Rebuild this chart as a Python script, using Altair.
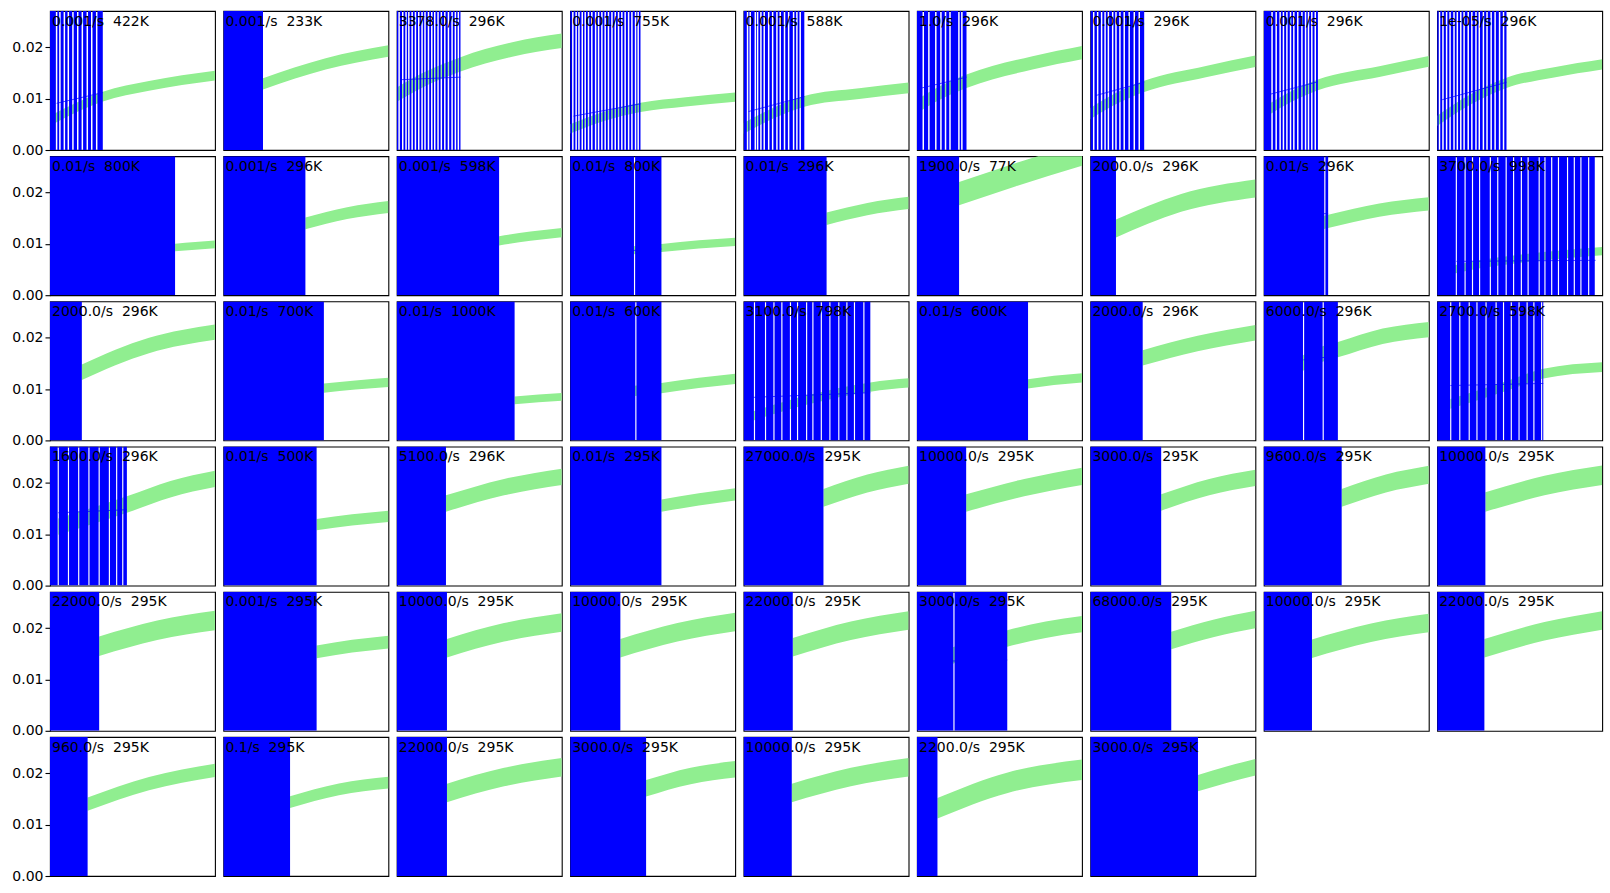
import altair as alt
import pandas as pd

# ---- panel labels ----
rates = ["0.001", "0.001", "3378.0", "0.001", "0.001", "1.0", "0.001", "0.001", "1e-05",
         "0.01", "0.001", "0.001", "0.01", "0.01", "1900.0", "2000.0", "0.01", "3700.0",
         "2000.0", "0.01", "0.01", "0.01", "3100.0", "0.01", "2000.0", "6000.0", "2700.0",
         "1600.0", "0.01", "5100.0", "0.01", "27000.0", "10000.0", "3000.0", "9600.0", "10000.0",
         "22000.0", "0.001", "10000.0", "10000.0", "22000.0", "3000.0", "68000.0", "10000.0", "22000.0",
         "960.0", "0.1", "22000.0", "3000.0", "10000.0", "2200.0", "3000.0"]
temps = [422, 233, 296, 755, 588, 296, 296, 296, 296,
         800, 296, 598, 800, 296, 77, 296, 296, 998,
         296, 700, 1000, 600, 798, 600, 296, 296, 598,
         296, 500, 296, 295, 295, 295, 295, 295, 295,
         295, 295, 295, 295, 295, 295, 295, 295, 295,
         295, 295, 295, 295, 295, 295, 295]

# ---- extent of the blue error bars (fraction of x range) ----
blue_end = [0.32, 0.24, 0.386, 0.426, 0.368, 0.30, 0.326, 0.328, 0.42,
            0.758, 0.497, 0.62, 0.553, 0.503, 0.255, 0.155, 0.39, 0.955,
            0.193, 0.609, 0.714, 0.553, 0.768, 0.673, 0.317, 0.449, 0.643,
            0.466, 0.565, 0.298, 0.553, 0.484, 0.298, 0.429, 0.472, 0.292,
            0.298, 0.565, 0.304, 0.304, 0.298, 0.547, 0.49, 0.292, 0.286,
            0.228, 0.404, 0.304, 0.46, 0.292, 0.124, 0.652]

# white gaps between error bars
gaps = [
    [0.04, 0.06, 0.087, 0.111, 0.139, 0.168, 0.196, 0.226, 0.253, 0.283],
    [],
    [0.014, 0.036, 0.056, 0.073, 0.093, 0.113, 0.133, 0.153, 0.171, 0.192, 0.212, 0.230, 0.250, 0.270, 0.291, 0.313, 0.335, 0.355, 0.373],
    [0.016, 0.036, 0.053, 0.073, 0.091, 0.111, 0.131, 0.154, 0.172, 0.192, 0.212, 0.232, 0.253, 0.273, 0.293, 0.313, 0.333, 0.354, 0.374, 0.396, 0.412],
    [0.024, 0.04, 0.071, 0.085, 0.105, 0.125, 0.152, 0.176, 0.202, 0.222, 0.248, 0.273, 0.303, 0.323, 0.343],
    [0.038, 0.072, 0.114, 0.145, 0.173, 0.2, 0.254, 0.272],
    [0.02, 0.044, 0.068, 0.089, 0.109, 0.135, 0.155, 0.179, 0.205, 0.235, 0.266, 0.296],
    [0.05, 0.075, 0.099, 0.119, 0.14, 0.162, 0.182, 0.206, 0.231, 0.253, 0.271, 0.291, 0.312],
    [0.014, 0.035, 0.057, 0.078, 0.102, 0.122, 0.143, 0.163, 0.188, 0.21, 0.235, 0.255, 0.28, 0.302, 0.327, 0.351, 0.378, 0.402],
    [], [], [], [0.39], [], [], [], [0.37],
    [0.116, 0.169, 0.214, 0.257, 0.322, 0.367, 0.418, 0.463, 0.51, 0.551, 0.618, 0.653, 0.694, 0.735, 0.79, 0.831, 0.871, 0.918],
    [], [], [], [0.398],
    [0.066, 0.133, 0.184, 0.232, 0.284, 0.327, 0.382, 0.42, 0.471, 0.523, 0.577, 0.626, 0.672, 0.729],
    [], [], [0.241, 0.36],
    [0.082, 0.137, 0.194, 0.241, 0.296, 0.357, 0.402, 0.449, 0.496, 0.545, 0.586, 0.633],
    [0.05, 0.112, 0.174, 0.236, 0.298, 0.36, 0.404, 0.441],
    [], [], [], [], [], [], [], [],
    [], [], [], [], [], [0.224], [], [], [],
    [], [], [], [], [], [], [],
]

# ---- green model band: centre line points and width ----
band_x = [
    [0, 0.32, 0.6, 1.0], [0.24, 0.62, 1.0], [0, 0.15, 0.386, 0.7, 1.0],
    [0, 0.2, 0.426, 0.7, 1.0], [0, 0.18, 0.368, 0.7, 1.0], [0, 0.15, 0.30, 0.7, 1.0],
    [0, 0.16, 0.326, 0.7, 1.0], [0, 0.16, 0.328, 0.7, 1.0], [0, 0.2, 0.42, 0.7, 1.0],
    [0.758, 0.88, 1.0], [0.497, 0.75, 1.0], [0.62, 0.81, 1.0],
    [0.3, 0.553, 0.78, 1.0], [0.503, 0.75, 1.0], [0.255, 0.6, 1.0],
    [0.155, 0.55, 1.0], [0.34, 0.39, 0.7, 1.0], [0.1, 0.25, 0.5, 1.0],
    [0.193, 0.6, 1.0], [0.609, 0.8, 1.0], [0.714, 0.86, 1.0],
    [0.3, 0.553, 0.78, 1.0], [0.06, 0.4, 0.768, 1.0], [0.671, 0.83, 1.0],
    [0.317, 0.65, 1.0], [0.22, 0.36, 0.449, 0.72, 1.0], [0.08, 0.4, 0.643, 1.0],
    [0.05, 0.466, 0.73, 1.0], [0.565, 0.78, 1.0], [0.298, 0.65, 1.0],
    [0.553, 0.78, 1.0], [0.484, 0.75, 1.0], [0.298, 0.65, 1.0],
    [0.429, 0.72, 1.0], [0.472, 0.74, 1.0], [0.292, 0.65, 1.0],
    [0.298, 0.65, 1.0], [0.565, 0.78, 1.0], [0.304, 0.65, 1.0],
    [0.304, 0.65, 1.0], [0.298, 0.65, 1.0], [0.2, 0.547, 0.78, 1.0],
    [0.49, 0.75, 1.0], [0.292, 0.65, 1.0], [0.286, 0.65, 1.0],
    [0.228, 0.6, 1.0], [0.404, 0.7, 1.0], [0.304, 0.65, 1.0],
    [0.46, 0.73, 1.0], [0.292, 0.65, 1.0], [0.124, 0.55, 1.0],
    [0.652, 0.83, 1.0],
]
band_c = [
    [0.0057, 0.0104, 0.0125, 0.0145], [0.0129, 0.0168, 0.0193], [0.0108, 0.0135, 0.0167, 0.0196, 0.0213],
    [0.0041, 0.0065, 0.0083, 0.0094, 0.0103], [0.0042, 0.0072, 0.0095, 0.011, 0.0121], [0.0085, 0.0113, 0.0134, 0.017, 0.019],
    [0.0071, 0.0101, 0.0124, 0.0153, 0.0173], [0.0073, 0.0103, 0.0127, 0.0153, 0.0173], [0.0057, 0.0098, 0.0131, 0.0151, 0.0167],
    [0.0093, 0.0096, 0.0099], [0.014, 0.016, 0.0172], [0.0106, 0.0115, 0.0122],
    [0.0086, 0.0092, 0.0099, 0.0104], [0.0149, 0.0168, 0.018], [0.0198, 0.0235, 0.0275],
    [0.013, 0.018, 0.0208], [0.014, 0.0144, 0.0166, 0.0178], [0.005, 0.006, 0.0071, 0.0086],
    [0.0133, 0.0185, 0.0211], [0.0102, 0.0108, 0.0113], [0.0078, 0.0082, 0.0085],
    [0.0094, 0.0102, 0.0112, 0.012], [0.0048, 0.008, 0.0104, 0.0112], [0.011, 0.0117, 0.0122],
    [0.0161, 0.0189, 0.021], [0.0148, 0.0169, 0.0177, 0.0203, 0.0216], [0.0071, 0.0104, 0.013, 0.0143],
    [0.0115, 0.0158, 0.0188, 0.0208], [0.0119, 0.0128, 0.0135], [0.016, 0.0192, 0.0212],
    [0.0156, 0.0168, 0.0178], [0.0171, 0.0199, 0.0216], [0.0161, 0.0191, 0.0213],
    [0.0162, 0.0192, 0.021], [0.0171, 0.0199, 0.0216], [0.0163, 0.0195, 0.0215],
    [0.0165, 0.0196, 0.0215], [0.0154, 0.0165, 0.0173], [0.0161, 0.0192, 0.0211],
    [0.0161, 0.0192, 0.0212], [0.0163, 0.0195, 0.0215], [0.0145, 0.018, 0.0197, 0.0208],
    [0.0176, 0.02, 0.0217], [0.016, 0.0191, 0.021], [0.0161, 0.0194, 0.0215],
    [0.014, 0.018, 0.0206], [0.0144, 0.0169, 0.0182], [0.0162, 0.0193, 0.0212],
    [0.0171, 0.0195, 0.0208], [0.0162, 0.0193, 0.0212], [0.0132, 0.0182, 0.0207],
    [0.0181, 0.0198, 0.0212],
]
band_w = [0.0019, 0.0022, 0.0028, 0.0018, 0.0021, 0.0026, 0.0022, 0.0021, 0.002,
          0.0015, 0.0023, 0.0018, 0.0016, 0.0024, 0.0045, 0.0035, 0.0026, 0.0016,
          0.003, 0.0018, 0.0015, 0.002, 0.0018, 0.0018, 0.003, 0.003, 0.0019,
          0.0032, 0.0022, 0.0032, 0.0024, 0.0035, 0.0034, 0.0032, 0.0035, 0.0038,
          0.0038, 0.0025, 0.0036, 0.0036, 0.0036, 0.0032, 0.0034, 0.0036, 0.0036,
          0.0026, 0.0023, 0.0036, 0.0032, 0.0036, 0.004, 0.0032]

# ---- measured data line (visible through gaps) ----
meas_x = {0: [0.04, 0.32], 2: [0.02, 0.386], 3: [0.02, 0.426], 4: [0.03, 0.368],
          5: [0.03, 0.30], 6: [0.03, 0.326], 7: [0.03, 0.328], 8: [0.03, 0.42],
          12: [0.3, 0.553], 16: [0.35, 0.39], 17: [0.116, 0.96], 22: [0.06, 0.768],
          25: [0.24, 0.449], 26: [0.08, 0.643], 27: [0.05, 0.466], 41: [0.2, 0.547]}
meas_y = {0: [0.0091, 0.0112], 2: [0.0137, 0.0142], 3: [0.0066, 0.009], 4: [0.0075, 0.0104],
          5: [0.0121, 0.0142], 6: [0.0106, 0.0132], 7: [0.0108, 0.0133], 8: [0.0098, 0.0132],
          12: [0.0086, 0.009], 16: [0.0159, 0.0159], 17: [0.0066, 0.0068], 22: [0.0084, 0.0093],
          25: [0.0157, 0.0165], 26: [0.0107, 0.0111], 27: [0.0142, 0.0148], 41: [0.0136, 0.0138]}

Y_TOP = 0.0271
PW, PH = 165, 139
NCOL = 9

rows = []
for i in range(len(rates)):
    gw = 0.009 if i < 9 else 0.007
    start = 0.0
    for g in sorted(gaps[i]):
        rows.append(dict(kind="blue", panel=i, x=start, x2=g - gw / 2))
        start = g + gw / 2
    rows.append(dict(kind="blue", panel=i, x=start, x2=blue_end[i]))
    for bx, bc in zip(band_x[i], band_c[i]):
        rows.append(dict(kind="band", panel=i, x=bx, lo=bc - band_w[i] / 2, hi=bc + band_w[i] / 2))
    if i in meas_x:
        for mx, my in zip(meas_x[i], meas_y[i]):
            rows.append(dict(kind="meas", panel=i, x=mx, y=my))
    rows.append(dict(kind="text", panel=i, label=f"{rates[i]}/s \u00a0{temps[i]}K"))

df = pd.DataFrame(rows)

xs = alt.Scale(domain=[0, 1], nice=False, zero=False)
ys = alt.Scale(domain=[0, Y_TOP], nice=False, zero=True)


def make_panel(i):
    if i % NCOL == 0:
        yaxis = alt.Axis(values=[0, 0.01, 0.02], format=".2f", grid=False, domain=False,
                         tickSize=5, tickWidth=1.1, tickColor="black", labelPadding=2,
                         labelFont="DejaVu Sans", labelFontSize=14, labelColor="black",
                         title=None)
    else:
        yaxis = None
    sel = f"datum.panel == {i}"
    band = alt.Chart().transform_filter(sel).transform_filter("datum.kind == 'band'").mark_area(
        color="#90ee90", interpolate="monotone", clip=True
    ).encode(
        x=alt.X("x:Q", scale=xs, axis=None),
        y=alt.Y("lo:Q", scale=ys, axis=yaxis),
        y2="hi:Q",
    )
    blue = alt.Chart().transform_filter(sel).transform_filter("datum.kind == 'blue'").mark_rect(
        color="#0000ff", clip=True
    ).encode(
        x=alt.X("x:Q", scale=xs, axis=None),
        x2="x2:Q",
        y=alt.value(0),
        y2=alt.value(PH),
    )
    text = alt.Chart().transform_filter(sel).transform_filter("datum.kind == 'text'").mark_text(
        align="left", baseline="alphabetic", fontSize=14, font="DejaVu Sans", color="black"
    ).encode(
        text="label:N",
        x=alt.value(2),
        y=alt.value(14.5),
    )
    layers = [band, blue]
    if i in meas_x:
        meas = alt.Chart().transform_filter(sel).transform_filter("datum.kind == 'meas'").mark_line(
            color="#0000ff", opacity=0.7, strokeWidth=1, clip=True
        ).encode(
            x=alt.X("x:Q", scale=xs, axis=None),
            y=alt.Y("y:Q", scale=ys, axis=yaxis),
        )
        layers.append(meas)
    layers.append(text)
    return alt.layer(*layers).properties(width=PW, height=PH)


panels = [make_panel(i) for i in range(len(rates))]

chart = alt.concat(*panels, data=df, columns=NCOL, bounds="flush",
                   spacing={"row": 6.2, "column": 8.4}).properties(
    padding={"left": 11, "top": 10, "right": 5, "bottom": 5},
    background="white",
).configure_view(
    stroke="black", strokeWidth=1.1
)

chart.save("out.html", embed_options={"renderer": "svg", "actions": False})
